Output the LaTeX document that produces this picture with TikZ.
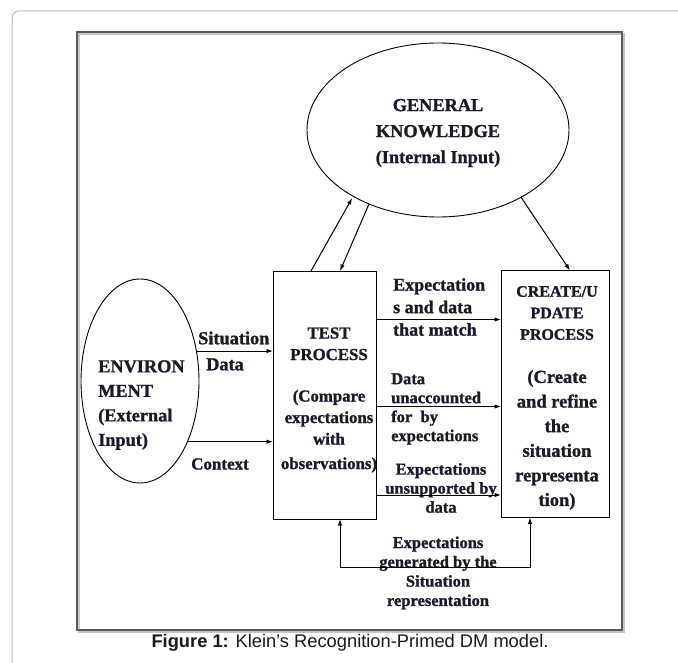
\documentclass[tikz,border=0pt]{standalone}
\usepackage{fontspec}
\setmainfont{Liberation Serif}[BoldFeatures={FakeBold=1.2}]
\newfontfamily\capfont{Liberation Sans}
\usetikzlibrary{arrows.meta,shapes.geometric}
\definecolor{ink}{HTML}{1A1A2A}
\definecolor{framec}{HTML}{5A5A5A}
\definecolor{cardc}{HTML}{BDBDBD}
\tikzset{
  x=1pt, y=-1pt,
  shapeline/.style={draw=black, line width=0.9pt, inner sep=0pt, outer sep=0pt},
  procbox/.style={shapeline, rectangle},
  oval/.style={shapeline, ellipse},
  txt/.style={text=ink, inner sep=0pt, font=\bfseries\fontsize{16.5}{19}\selectfont},
  conn/.style={line width=1pt, draw=black, -{Latex[length=6.5pt,width=4.5pt]}},
  conn2/.style={line width=1pt, draw=black, {Latex[length=6.5pt,width=4.5pt]}-{Latex[length=6.5pt,width=4.5pt]}}
}
\begin{document}
\begin{tikzpicture}
\useasboundingbox (0,0) rectangle (678,663);
% card
\draw[cardc, line width=1pt, rounded corners=7pt] (12,670) -- (12,11) -- (690,11);
% frame
\draw[gray!45, line width=1.4pt] (79,34) rectangle (624,632);
\draw[framec, line width=1.3pt] (77,32) rectangle (622,630);

% shapes
\node[oval, minimum width=262pt, minimum height=174pt] (gk) at (438,130) {};
\node[oval, minimum width=118pt, minimum height=204pt] (env) at (140,381) {};
\node[procbox, minimum width=103pt, minimum height=248pt] (test) at (324.5,395) {};
\node[procbox, minimum width=108pt, minimum height=247pt] (create) at (555,394) {};

% texts in shapes
\node[txt, align=center, font=\bfseries\fontsize{18.3}{26}\selectfont] (gkt) at (438,133) {GENERAL\\KNOWLEDGE\\(Internal Input)};
\node[txt, align=left, anchor=west, font=\bfseries\fontsize{18.3}{24.5}\selectfont] (envt) at (98,405) {ENVIRON\\MENT\\(External\\Input)};
\node[txt, align=center, font=\bfseries\fontsize{16.8}{21.5}\selectfont] (testt) at (329,400) {TEST\\PROCESS\\[20pt](Compare\\expectations\\with\\[3pt]observations)};
\node[txt, align=center, font=\bfseries\fontsize{16}{21.5}\selectfont] (createh) at (557,313) {CREATE/U\\PDATE\\PROCESS};
\node[txt, align=center, font=\bfseries\fontsize{18.5}{24.6}\selectfont] (createb) at (557,440) {(Create\\and refine\\the\\situation\\representa\\tion)};

% connector labels
\node[txt, align=left, anchor=west, font=\bfseries\fontsize{18.3}{26}\selectfont] (lsit) at (198,351) {Situation\\\hspace*{8pt}Data};
\node[txt, anchor=center, font=\bfseries\fontsize{17}{19}\selectfont] (lctx) at (220,464) {Context};
\node[txt, align=left, anchor=west, font=\bfseries\fontsize{18}{22.5}\selectfont] (lmatch) at (393,307) {Expectation\\s and data\\that match};
\node[txt, align=left, anchor=west] (lunacc) at (391,409) {Data\\unaccounted\\for\ \ by\\expectations};
\node[txt, align=center] (lunsup) at (441,488) {Expectations\\unsupported by\\data};
\node[txt, align=center, font=\bfseries\fontsize{16.5}{19.3}\selectfont] (lgen) at (438,573) {Expectations\\generated by the\\Situation\\representation};

% caption
\node[inner sep=0pt, anchor=base, text=black!90, font=\capfont\fontsize{18.3}{22}\selectfont] (cap) at (350,647) {\textbf{Figure 1:} Klein’s Recognition-Primed DM model.};

% connectors
\draw[conn] (env.28) -- (env.28 -| test.west);
\draw[conn] (env.-52) -- (env.-52 -| test.west);
\draw[conn] ([yshift=75.5pt]test.east) -- ([yshift=75.5pt]test.east -| create.west);
\draw[conn] ([yshift=-11.5pt]test.east) -- ([yshift=-11.5pt]test.east -| create.west);
\draw[conn] ([yshift=-100pt]test.east) -- ([yshift=-100pt]test.east -| create.west);
\draw[conn, shorten >=2pt] ([xshift=38pt]test.north west) -- (gk.218);
\draw[conn] (gk.227) -- ([xshift=67pt]test.north west);
\draw[conn] (gk.321) -- ([xshift=69pt]create.north west);
\coordinate (loopl) at ([xshift=67pt, yshift=-48pt]test.south west);
\draw[conn2] ([xshift=67pt]test.south west) -- (loopl) -| ([xshift=29pt]create.south west);
\end{tikzpicture}
\end{document}
